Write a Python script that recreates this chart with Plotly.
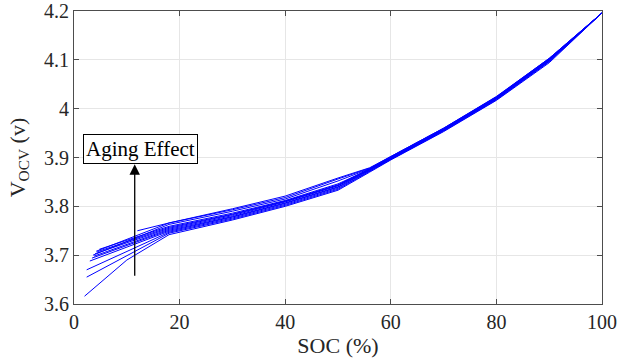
import plotly.graph_objects as go

# ---- Data ----
soc_c1 = [2.0, 10, 18, 30, 40, 50, 56, 60, 70, 80, 90, 100]
v_c1 = [3.616, 3.690, 3.742, 3.772, 3.800, 3.833, 3.870, 3.895, 3.953, 4.017, 4.094, 4.196]

soc_c2 = [2.4, 18, 30, 40, 50, 56, 60, 70, 80, 90, 100]
v_c2 = [3.655, 3.745, 3.774, 3.802, 3.835, 3.871, 3.896, 3.954, 4.018, 4.096, 4.196]

soc_c3 = [2.4, 18, 30, 40, 50, 56, 60, 70, 80, 90, 100]
v_c3 = [3.670, 3.747, 3.776, 3.804, 3.837, 3.872, 3.897, 3.955, 4.019, 4.097, 4.196]

soc_c4 = [3.0, 18, 30, 40, 50, 56, 60, 70, 80, 90, 100]
v_c4 = [3.688, 3.749, 3.778, 3.806, 3.839, 3.873, 3.897, 3.956, 4.020, 4.098, 4.196]

soc_c5 = [3.4, 18, 30, 40, 50, 56, 60, 70, 80, 90, 100]
v_c5 = [3.694, 3.751, 3.779, 3.807, 3.840, 3.874, 3.898, 3.956, 4.021, 4.099, 4.196]

soc_c6 = [3.8, 18, 30, 40, 50, 56, 60, 70, 80, 90, 100]
v_c6 = [3.698, 3.753, 3.781, 3.809, 3.842, 3.875, 3.898, 3.957, 4.021, 4.100, 4.196]

soc_c7 = [4.0, 18, 30, 40, 50, 56, 60, 70, 80, 90, 100]
v_c7 = [3.703, 3.755, 3.783, 3.810, 3.843, 3.875, 3.899, 3.957, 4.022, 4.100, 4.196]

soc_c8 = [4.4, 18, 30, 40, 50, 56, 60, 70, 80, 90, 100]
v_c8 = [3.707, 3.757, 3.784, 3.811, 3.844, 3.876, 3.899, 3.958, 4.022, 4.101, 4.196]

soc_c9 = [4.8, 18, 30, 40, 50, 56, 60, 70, 80, 90, 100]
v_c9 = [3.712, 3.759, 3.786, 3.812, 3.846, 3.876, 3.900, 3.958, 4.023, 4.101, 4.196]

soc_c10 = [3.6, 18, 30, 40, 50, 56, 60, 70, 80, 90, 100]
v_c10 = [3.700, 3.763, 3.790, 3.815, 3.852, 3.877, 3.901, 3.959, 4.024, 4.102, 4.196]

soc_c11 = [4.2, 18, 30, 40, 50, 56, 60, 70, 80, 90, 100]
v_c11 = [3.708, 3.766, 3.793, 3.818, 3.856, 3.878, 3.902, 3.960, 4.024, 4.103, 4.196]

soc_c12 = [12, 18, 30, 40, 50, 56, 60, 70, 80, 90, 100]
v_c12 = [3.750, 3.766, 3.795, 3.821, 3.858, 3.879, 3.902, 3.960, 4.025, 4.103, 4.196]

curves = [
    (soc_c1, v_c1), (soc_c2, v_c2), (soc_c3, v_c3), (soc_c4, v_c4),
    (soc_c5, v_c5), (soc_c6, v_c6), (soc_c7, v_c7), (soc_c8, v_c8),
    (soc_c9, v_c9), (soc_c10, v_c10), (soc_c11, v_c11), (soc_c12, v_c12),
]

x_ticks = [0, 20, 40, 60, 80, 100]
y_ticks = [3.6, 3.7, 3.8, 3.9, 4.0, 4.1, 4.2]
y_tick_text = ["3.6", "3.7", "3.8", "3.9", "4", "4.1", "4.2"]

arrow_soc = 11.5
arrow_v_start = 3.655
arrow_v_end = 3.886
label_text = "Aging Effect"
label_soc = 12.65
label_v = 3.917

# ---- Figure ----
fig = go.Figure()
for s, v in curves:
    fig.add_trace(go.Scatter(x=s, y=v, mode="lines",
                             line=dict(color="#0000ff", width=1),
                             showlegend=False, hoverinfo="skip"))

font = "'Liberation Serif', 'Times New Roman', serif"
axis_common = dict(
    showgrid=True, gridcolor="#e6e6e6", gridwidth=1,
    showline=True, linecolor="#4d4d4d", linewidth=1, mirror="ticks",
    ticks="inside", ticklen=5, tickcolor="#4d4d4d",
    zeroline=False, automargin=False,
    tickfont=dict(family=font, size=20, color="#262626"),
)

fig.update_layout(
    width=619, height=364,
    margin=dict(l=74, r=17, t=11, b=60, pad=0),
    paper_bgcolor="white", plot_bgcolor="white",
    font=dict(family=font, color="#262626"),
    xaxis=dict(range=[0, 100], tickvals=x_ticks,
               title=dict(text="SOC (%)", font=dict(family=font, size=22, color="#262626"),
                          standoff=5),
               **axis_common),
    yaxis=dict(range=[3.6, 4.2], tickvals=y_ticks, ticktext=y_tick_text,
               title=dict(text="V<sub>OCV</sub> (v)", font=dict(family=font, size=22, color="#262626"),
                          standoff=12),
               **axis_common),
)

fig.add_annotation(
    x=arrow_soc, y=arrow_v_end, ax=arrow_soc, ay=arrow_v_start,
    xref="x", yref="y", axref="x", ayref="y",
    text="", showarrow=True, arrowhead=2, arrowsize=1.6, arrowwidth=1.3,
    arrowcolor="black",
)
fig.add_annotation(
    x=label_soc, y=label_v, xref="x", yref="y", text=label_text,
    showarrow=False, font=dict(family=font, size=21, color="black"),
    bgcolor="white", bordercolor="black", borderwidth=1, borderpad=2,
)

fig.write_html("out.html", config={"displayModeBar": False},
               post_script="document.body.style.margin='0';")
